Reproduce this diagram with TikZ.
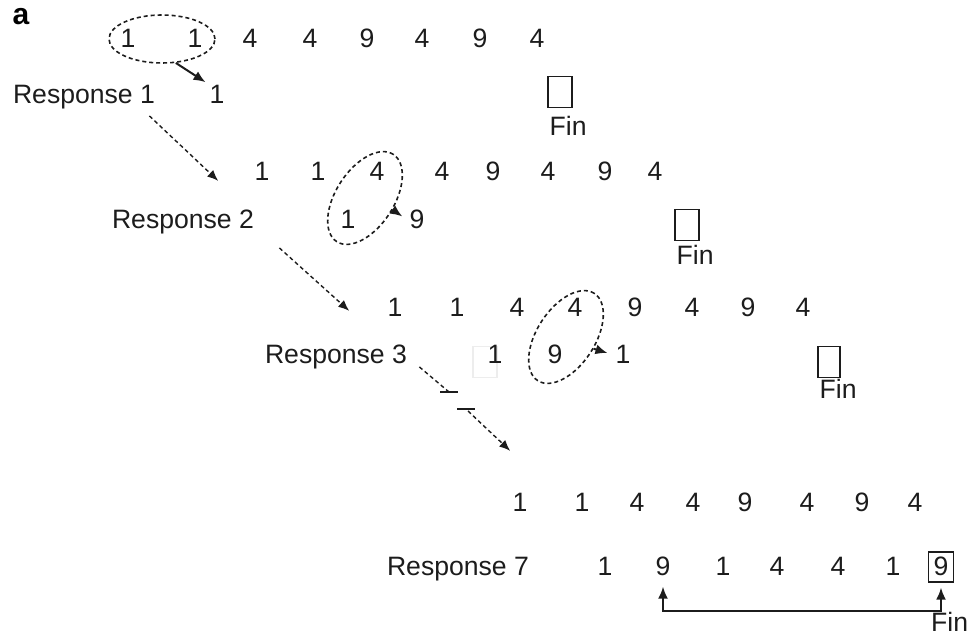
\documentclass[tikz,border=0pt]{standalone}
\usepackage{fontspec}
\setmainfont{Liberation Sans}
\usepackage{tikz}
\usetikzlibrary{arrows.meta,positioning,shapes.geometric,calc}
\definecolor{ink}{HTML}{1C1C1C}
\definecolor{faintgray}{HTML}{EDEDED}

\begin{document}
\begin{tikzpicture}[x=0.5pt,y=-0.5pt,
    num/.style={font=\fontsize{13.3}{16}\selectfont\color{ink},inner sep=1pt,anchor=base},
    finbox/.style={draw=ink,line width=0.8pt,minimum width=12pt,minimum height=15.5pt,inner sep=0pt},
    pick/.style={ellipse,draw=ink,line width=0.8pt,dash pattern=on 2pt off 1.5pt,inner sep=0pt},
    arr/.style={ink,line width=1pt,-{Latex[length=6pt,width=5pt]}},
    darr/.style={ink,line width=0.7pt,dash pattern=on 2pt off 1.5pt,-{Latex[length=5.5pt,width=4.5pt]}}]
  \useasboundingbox (0,0) rectangle (969,635);

  \node[num,font=\fontsize{15}{16}\selectfont\bfseries] (tag) at (21,25) {a};

  % prompt, then the first answer
  \foreach \x/\d [count=\i] in {128/1,195/1,250/4,310/4,367/9,422/4,480/9,537/4}
    \node[num] (s1\i) at (\x,48) {\d};
  \node[pick,minimum width=53pt,minimum height=24pt] (e1) at (162,39) {};
  \node[num] (resp1) at (84,104) {Response 1};
  \node[num] (o11) at (217,104) {1};
  \draw[arr,shorten >=1pt] (e1.-60) -- (o11.north west);
  \node[finbox] (f1) at (560,92) {};
  \node[num,anchor=base west] (fn1) at ([yshift=-13.5pt]f1.south west) {Fin};

  % second step
  \foreach \x/\d [count=\i] in {262/1,318/1,377/4,442/4,493/9,548/4,605/9,655/4}
    \node[num] (s2\i) at (\x,181) {\d};
  \draw[darr] ([xshift=-4pt,yshift=-2pt]resp1.south east) -- ([xshift=-17pt,yshift=-4.5pt]s21.west);
  \node[num] (resp2) at (183,229) {Response 2};
  \node[num] (o21) at (348,229) {1};
  \node[num] (o22) at (417,229) {9};
  \node[pick,rotate=57,minimum width=52pt,minimum height=29pt] (e2) at (365,198) {};
  \draw[arr,shorten >=3pt] (e2.-80) -- (o22.west);
  \node[finbox] (f2) at (687,225) {};
  \node[num,anchor=base west] (fn2) at ([yshift=-11.5pt]f2.south west) {Fin};

  % third step
  \foreach \x/\d [count=\i] in {395/1,457/1,517/4,575/4,635/9,692/4,748/9,803/4}
    \node[num] (s3\i) at (\x,317) {\d};
  \draw[darr] ([xshift=11.5pt,yshift=-5.5pt]resp2.south east) -- ([xshift=-18pt,yshift=-1.5pt]s31.west);
  \node[num] (resp3) at (336,364) {Response 3};
  \node[finbox,draw=faintgray,minimum width=12pt] (g3) at (485,362) {};
  \node[num] (o31) at (495,364) {1};
  \node[num] (o32) at (555,364) {9};
  \node[num] (o33) at (623,364) {1};
  \node[pick,rotate=57,minimum width=52pt,minimum height=29pt] (e3) at (566,337) {};
  \draw[arr,shorten >=3pt] (e3.-80) -- (o33.west);
  \node[finbox,minimum width=11pt] (f3) at (829,362) {};
  \node[num,anchor=base west] (fn3) at ([yshift=-10pt]f3.south west) {Fin};

  % last step
  \foreach \x/\d [count=\i] in {520/1,582/1,637/4,693/4,745/9,807/4,862/9,915/4}
    \node[num] (s4\i) at (\x,512) {\d};
  \node[num] (resp7) at (458,576) {Response 7};
  \foreach \x/\d [count=\i] in {605/1,663/9,723/1,777/4,838/4,893/1}
    \node[num] (o7\i) at (\x,576) {\d};
  \node[num,draw=ink,line width=0.8pt,minimum width=12.5pt,minimum height=15pt] (o77) at (941,576) {9};
  \draw[ink,line width=1pt,{Latex[length=6pt,width=5pt]}-{Latex[length=6pt,width=5pt]},shorten <=4pt,shorten >=2.5pt]
    (o72.south) -- ++(0,32) -| (o77.south);
  \node[num,anchor=base west] (fn4) at ([xshift=0.5pt,yshift=-24.5pt]o77.south west) {Fin};

  % skipped steps
  \coordinate (k1) at (449,392);
  \coordinate (k2) at (466,409);
  \draw[ink,line width=0.7pt,dash pattern=on 2pt off 1.5pt] ([xshift=5pt,yshift=2.5pt]resp3.south east) -- (k1);
  \draw[ink,line width=0.7pt] ($(k1)+(-9,0)$) -- ($(k1)+(9,0)$);
  \draw[ink,line width=0.7pt] ($(k2)+(-9,0)$) -- ($(k2)+(9,0)$);
  \draw[darr] ($(k2)+(2,2)$) -- ([yshift=26pt]s41.west);
\end{tikzpicture}
\end{document}
